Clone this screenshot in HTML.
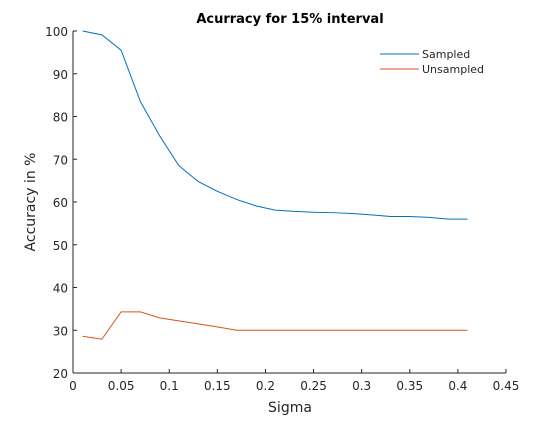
<!DOCTYPE html>
<html><head><meta charset="utf-8"><style>
body{margin:0;background:#fff;font-family:"DejaVu Sans",sans-serif;}
svg text{font-family:"DejaVu Sans","Liberation Sans",sans-serif;}
</style></head><body>
<svg id="c" width="560" height="420" xmlns="http://www.w3.org/2000/svg">
<text x="290" y="23" text-anchor="middle" font-size="13" font-weight="bold">Acurracy for 15% interval</text>
<text x="290" y="412" text-anchor="middle" font-size="14" fill="#262626">Sigma</text>
<text transform="translate(35,202) rotate(-90)" text-anchor="middle" font-size="14" fill="#262626">Accuracy in %</text>
<g id="axes"></g>
<g>
<line x1="380" y1="54" x2="419" y2="54" stroke="#0072bd"/>
<text x="422" y="58" font-size="11" fill="#262626">Sampled</text>
<line x1="380" y1="69" x2="419" y2="69" stroke="#d95319"/>
<text x="422" y="73" font-size="11" fill="#262626">Unsampled</text>
</g>
</svg>
<script>
const sigma=[0.01,0.03,0.05,0.07,0.09,0.11,0.13,0.15,0.17,0.19,0.21,0.23,0.25,0.27,0.29,0.31,0.33,0.35,0.37,0.39,0.41];
const sampled=[100,99.1,95.5,83.5,75.5,68.5,64.8,62.5,60.6,59.1,58.1,57.8,57.6,57.5,57.3,57.0,56.6,56.6,56.4,56.0,56.0];
const unsampled=[28.6,27.9,34.3,34.3,32.9,32.2,31.5,30.8,30,30,30,30,30,30,30,30,30,30,30,30,30];
const xTicks=[0,0.05,0.1,0.15,0.2,0.25,0.3,0.35,0.4,0.45];
const yTicks=[20,30,40,50,60,70,80,90,100];
const X0=73,X1=506,Y0=373,Y1=31;
const sx=v=>X0+(v-0)/(0.45)*(X1-X0);
const sy=v=>Y0-(v-20)/80*(Y0-Y1);
const NS="http://www.w3.org/2000/svg";
const svg=document.getElementById('c'),g=document.getElementById('axes');
function mk(t,a,p){const e=document.createElementNS(NS,t);for(const k in a)e.setAttribute(k,a[k]);(p||g).appendChild(e);return e;}
let ax=mk('line',{x1:X0,y1:Y0,x2:X1,y2:Y0,stroke:'#262626'});


let ay=mk('line',{x1:X0,y1:Y0,x2:X0,y2:Y1,stroke:'#262626'});


xTicks.forEach(v=>{const x=sx(v);mk('line',{x1:x,y1:Y0,x2:x,y2:Y0-4,stroke:'#262626'});
const t=mk('text',{x:x,y:Y0+17,'text-anchor':'middle','font-size':12,fill:'#262626'});t.textContent=String(v);

});
yTicks.forEach(v=>{const y=sy(v);mk('line',{x1:X0,y1:y,x2:X0+4,y2:y,stroke:'#262626'});
const t=mk('text',{x:X0-5,y:y+5,'text-anchor':'end','font-size':12,fill:'#262626'});t.textContent=String(v);

});
function line(arr,col,name){const p=mk('polyline',{points:arr.map((v,i)=>sx(sigma[i])+','+sy(v)).join(' '),fill:'none',stroke:col,'stroke-width':1},svg);

}
line(sampled,'#0072bd','sampled-line');
line(unsampled,'#d95319','unsampled-line');
</script>
</body></html>
